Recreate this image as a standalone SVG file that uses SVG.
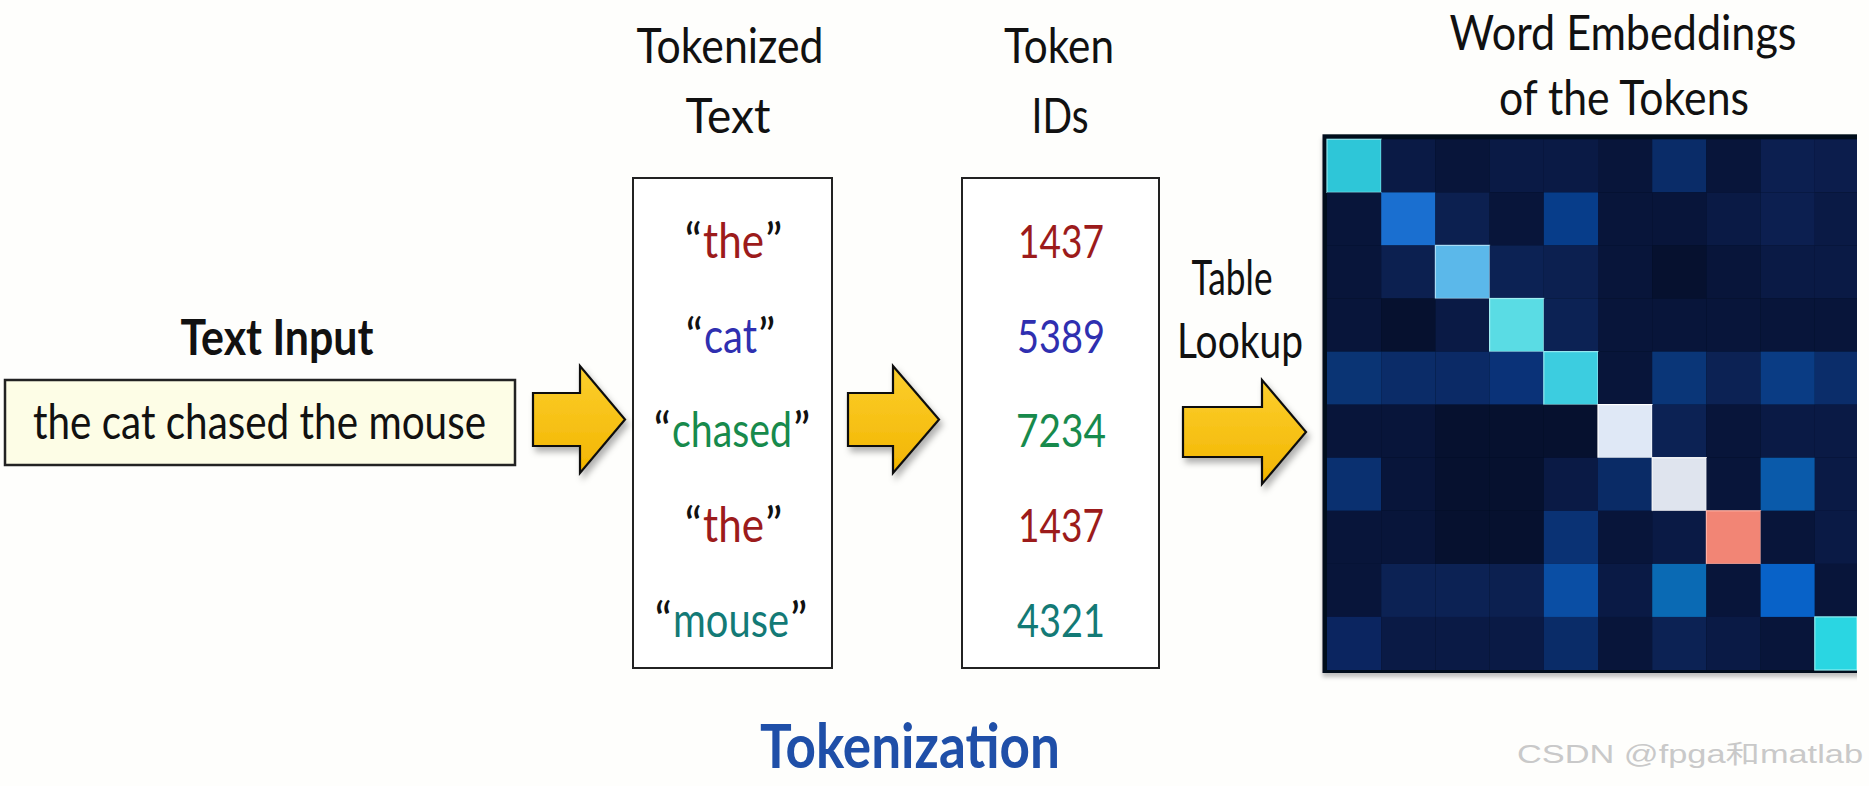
<svg xmlns="http://www.w3.org/2000/svg" width="1869" height="786" viewBox="0 0 1869 786">
<style>
.hdr{font-family:Lato,"Open Sans",sans-serif;font-size:49px;fill:#111;text-anchor:middle}
.tok{font-family:Lato,"Open Sans",sans-serif;font-size:48px}
.q{fill:#111}
.qe{text-anchor:end}
.num{font-family:Lato,"Open Sans",sans-serif;font-size:46px;text-anchor:middle}
.box{fill:#ffffff;stroke:#222;stroke-width:2}
.arrow{fill:url(#gold);stroke:#111;stroke-width:2.2;stroke-linejoin:miter;filter:url(#sh)}
.red{fill:#9c1b1b}.blue{fill:#2f2fb0}.green{fill:#178a4c}.teal{fill:#137a76}
</style>
<defs>
<linearGradient id="gold" x1="0" y1="0" x2="0" y2="1">
<stop offset="0" stop-color="#fccf2e"/>
<stop offset="1" stop-color="#f2b500"/>
</linearGradient>
<filter id="sh" x="-20%" y="-20%" width="150%" height="150%">
<feDropShadow dx="3" dy="5" stdDeviation="3" flood-color="#000" flood-opacity="0.3"/>
</filter>
<filter id="msh" x="-5%" y="-5%" width="110%" height="110%">
<feDropShadow dx="0" dy="4" stdDeviation="2" flood-color="#000" flood-opacity="0.25"/>
</filter>
</defs>
<rect width="1869" height="786" fill="#fefefc"/>

<g id="input">
<text x="277" y="355" class="hdr" font-weight="bold" textLength="193" lengthAdjust="spacingAndGlyphs">Text Input</text>
<rect x="5" y="380" width="510" height="85" fill="#fdfde6" stroke="#222" stroke-width="2.5"/>
<text x="33" y="439" font-family="Lato,'Open Sans',sans-serif" font-size="48" fill="#111" textLength="453" lengthAdjust="spacingAndGlyphs">the cat chased the mouse</text>
</g>

<g id="tokenized">
<text x="730" y="63" class="hdr" textLength="187" lengthAdjust="spacingAndGlyphs">Tokenized</text>
<text x="728" y="133" class="hdr" textLength="85" lengthAdjust="spacingAndGlyphs">Text</text>
<rect x="633" y="178" width="199" height="490" class="box"/>
<g class="tok">
<text x="702" y="258" class="q qe">“</text>
<text transform="translate(703,258) scale(0.8,1)" class="red" textLength="76.25" lengthAdjust="spacingAndGlyphs">the</text>
<text x="765" y="258" class="q">”</text>

<text x="703" y="353" class="q qe">“</text>
<text transform="translate(704,353) scale(0.8,1)" class="blue" textLength="66.25" lengthAdjust="spacingAndGlyphs">cat</text>
<text x="758" y="353" class="q">”</text>

<text x="671" y="447" class="q qe">“</text>
<text transform="translate(672,447) scale(0.8,1)" class="green" textLength="150" lengthAdjust="spacingAndGlyphs">chased</text>
<text x="793" y="447" class="q">”</text>

<text x="702" y="542" class="q qe">“</text>
<text transform="translate(703,542) scale(0.8,1)" class="red" textLength="76.25" lengthAdjust="spacingAndGlyphs">the</text>
<text x="765" y="542" class="q">”</text>

<text x="672" y="637" class="q qe">“</text>
<text transform="translate(673,637) scale(0.8,1)" class="teal" textLength="145" lengthAdjust="spacingAndGlyphs">mouse</text>
<text x="790" y="637" class="q">”</text>
</g>
</g>

<g id="token-ids">
<text x="1059" y="63" class="hdr" textLength="110" lengthAdjust="spacingAndGlyphs">Token</text>
<text x="1060" y="133" class="hdr" textLength="57" lengthAdjust="spacingAndGlyphs">IDs</text>
<rect x="962" y="178" width="197" height="490" class="box"/>
<text x="1061" y="258" class="num red" textLength="86" lengthAdjust="spacingAndGlyphs">1437</text>
<text x="1061" y="353" class="num blue" textLength="88" lengthAdjust="spacingAndGlyphs">5389</text>
<text x="1061" y="447" class="num green" textLength="90" lengthAdjust="spacingAndGlyphs">7234</text>
<text x="1061" y="542" class="num red" textLength="86" lengthAdjust="spacingAndGlyphs">1437</text>
<text x="1061" y="637" class="num teal" textLength="88" lengthAdjust="spacingAndGlyphs">4321</text>
</g>

<g id="lookup-label">
<text x="1232" y="295" class="hdr" font-size="46" textLength="81" lengthAdjust="spacingAndGlyphs">Table</text>
<text x="1240" y="358" class="hdr" font-size="46" textLength="126" lengthAdjust="spacingAndGlyphs">Lookup</text>
</g>

<g id="connectors">
<polygon class="arrow" points="533,393 580,393 580,366 625,419.5 580,473 580,446 533,446"/>
<polygon class="arrow" points="848,393 893,393 893,366 939,419.5 893,473 893,446 848,446"/>
<polygon class="arrow" points="1183,407 1262,407 1262,380 1306,432 1262,484 1262,457 1183,457"/>
</g>

<g id="embeddings">
<text x="1623" y="50" class="hdr" font-size="47" textLength="347" lengthAdjust="spacingAndGlyphs">Word Embeddings</text>
<text x="1624" y="115" class="hdr" font-size="47" textLength="250" lengthAdjust="spacingAndGlyphs">of the Tokens</text>
<rect x="1322.5" y="134.3" width="540" height="538.7" fill="#050a1a" filter="url(#msh)"/>
<g id="cells" stroke="none">
<!-- row 0 -->
<rect x="1327" y="139.3" width="54.2" height="53.1" fill="#2ec6d8" stroke="#8fe6ee" stroke-width="1.2"/>
<rect x="1381.2" y="139.3" width="54.2" height="53.1" fill="#0a1a45"/>
<rect x="1435.4" y="139.3" width="54.2" height="53.1" fill="#08153a"/>
<rect x="1489.6" y="139.3" width="54.2" height="53.1" fill="#0a1a45"/>
<rect x="1543.8" y="139.3" width="54.2" height="53.1" fill="#0a1a45"/>
<rect x="1598" y="139.3" width="54.2" height="53.1" fill="#08153a"/>
<rect x="1652.2" y="139.3" width="54.2" height="53.1" fill="#0a2c68"/>
<rect x="1706.4" y="139.3" width="54.2" height="53.1" fill="#08153a"/>
<rect x="1760.6" y="139.3" width="54.2" height="53.1" fill="#0c1f50"/>
<rect x="1814.8" y="139.3" width="42.2" height="53.1" fill="#0c1d4c"/>
<!-- row 1 -->
<rect x="1327" y="192.4" width="54.2" height="53.1" fill="#08153a"/>
<rect x="1381.2" y="192.4" width="54.2" height="53.1" fill="#1a6fd0"/>
<rect x="1435.4" y="192.4" width="54.2" height="53.1" fill="#0c2050"/>
<rect x="1489.6" y="192.4" width="54.2" height="53.1" fill="#08153a"/>
<rect x="1543.8" y="192.4" width="54.2" height="53.1" fill="#073d8a"/>
<rect x="1598" y="192.4" width="54.2" height="53.1" fill="#08153a"/>
<rect x="1652.2" y="192.4" width="54.2" height="53.1" fill="#08153a"/>
<rect x="1706.4" y="192.4" width="54.2" height="53.1" fill="#0a1a45"/>
<rect x="1760.6" y="192.4" width="54.2" height="53.1" fill="#0c1f50"/>
<rect x="1814.8" y="192.4" width="42.2" height="53.1" fill="#0a1a45"/>
<!-- row 2 -->
<rect x="1327" y="245.4" width="54.2" height="53.1" fill="#08153a"/>
<rect x="1381.2" y="245.4" width="54.2" height="53.1" fill="#0c2050"/>
<rect x="1435.4" y="245.4" width="54.2" height="53.1" fill="#5bb8ea" stroke="#a8dcf6" stroke-width="1.2"/>
<rect x="1489.6" y="245.4" width="54.2" height="53.1" fill="#0c2254"/>
<rect x="1543.8" y="245.4" width="54.2" height="53.1" fill="#0c2050"/>
<rect x="1598" y="245.4" width="54.2" height="53.1" fill="#08153a"/>
<rect x="1652.2" y="245.4" width="54.2" height="53.1" fill="#06112f"/>
<rect x="1706.4" y="245.4" width="54.2" height="53.1" fill="#08153a"/>
<rect x="1760.6" y="245.4" width="54.2" height="53.1" fill="#0a1a45"/>
<rect x="1814.8" y="245.4" width="42.2" height="53.1" fill="#0a1a45"/>
<!-- row 3 -->
<rect x="1327" y="298.5" width="54.2" height="53.1" fill="#08153a"/>
<rect x="1381.2" y="298.5" width="54.2" height="53.1" fill="#06112f"/>
<rect x="1435.4" y="298.5" width="54.2" height="53.1" fill="#0a1a45"/>
<rect x="1489.6" y="298.5" width="54.2" height="53.1" fill="#5adce4" stroke="#a0eef2" stroke-width="1.2"/>
<rect x="1543.8" y="298.5" width="54.2" height="53.1" fill="#0c2254"/>
<rect x="1598" y="298.5" width="54.2" height="53.1" fill="#08153a"/>
<rect x="1652.2" y="298.5" width="54.2" height="53.1" fill="#08153a"/>
<rect x="1706.4" y="298.5" width="54.2" height="53.1" fill="#08153a"/>
<rect x="1760.6" y="298.5" width="54.2" height="53.1" fill="#08153a"/>
<rect x="1814.8" y="298.5" width="42.2" height="53.1" fill="#08153a"/>
<!-- row 4 -->
<rect x="1327" y="351.6" width="54.2" height="53.1" fill="#0a3474"/>
<rect x="1381.2" y="351.6" width="54.2" height="53.1" fill="#0b2c68"/>
<rect x="1435.4" y="351.6" width="54.2" height="53.1" fill="#0b2a66"/>
<rect x="1489.6" y="351.6" width="54.2" height="53.1" fill="#0a3278"/>
<rect x="1543.8" y="351.6" width="54.2" height="53.1" fill="#3ccde0" stroke="#94e8f0" stroke-width="1.2"/>
<rect x="1598" y="351.6" width="54.2" height="53.1" fill="#08153a"/>
<rect x="1652.2" y="351.6" width="54.2" height="53.1" fill="#0a3678"/>
<rect x="1706.4" y="351.6" width="54.2" height="53.1" fill="#0c2254"/>
<rect x="1760.6" y="351.6" width="54.2" height="53.1" fill="#0a3c84"/>
<rect x="1814.8" y="351.6" width="42.2" height="53.1" fill="#0b2d6a"/>
<!-- row 5 -->
<rect x="1327" y="404.6" width="54.2" height="53.1" fill="#08153a"/>
<rect x="1381.2" y="404.6" width="54.2" height="53.1" fill="#08153a"/>
<rect x="1435.4" y="404.6" width="54.2" height="53.1" fill="#06112f"/>
<rect x="1489.6" y="404.6" width="54.2" height="53.1" fill="#06112f"/>
<rect x="1543.8" y="404.6" width="54.2" height="53.1" fill="#06112f"/>
<rect x="1598" y="404.6" width="54.2" height="53.1" fill="#dfe8f6" stroke="#ffffff" stroke-width="1.2"/>
<rect x="1652.2" y="404.6" width="54.2" height="53.1" fill="#0c2254"/>
<rect x="1706.4" y="404.6" width="54.2" height="53.1" fill="#08153a"/>
<rect x="1760.6" y="404.6" width="54.2" height="53.1" fill="#0a1a45"/>
<rect x="1814.8" y="404.6" width="42.2" height="53.1" fill="#0a1a45"/>
<!-- row 6 -->
<rect x="1327" y="457.7" width="54.2" height="53.1" fill="#0a3070"/>
<rect x="1381.2" y="457.7" width="54.2" height="53.1" fill="#08153a"/>
<rect x="1435.4" y="457.7" width="54.2" height="53.1" fill="#06112f"/>
<rect x="1489.6" y="457.7" width="54.2" height="53.1" fill="#06112f"/>
<rect x="1543.8" y="457.7" width="54.2" height="53.1" fill="#0a1a45"/>
<rect x="1598" y="457.7" width="54.2" height="53.1" fill="#0a2b66"/>
<rect x="1652.2" y="457.7" width="54.2" height="53.1" fill="#dfe4ee" stroke="#ffffff" stroke-width="1.2"/>
<rect x="1706.4" y="457.7" width="54.2" height="53.1" fill="#08153a"/>
<rect x="1760.6" y="457.7" width="54.2" height="53.1" fill="#0a5aaa"/>
<rect x="1814.8" y="457.7" width="42.2" height="53.1" fill="#0a1a45"/>
<!-- row 7 -->
<rect x="1327" y="510.8" width="54.2" height="53.1" fill="#08153a"/>
<rect x="1381.2" y="510.8" width="54.2" height="53.1" fill="#08153a"/>
<rect x="1435.4" y="510.8" width="54.2" height="53.1" fill="#06112f"/>
<rect x="1489.6" y="510.8" width="54.2" height="53.1" fill="#06112f"/>
<rect x="1543.8" y="510.8" width="54.2" height="53.1" fill="#0a3274"/>
<rect x="1598" y="510.8" width="54.2" height="53.1" fill="#08153a"/>
<rect x="1652.2" y="510.8" width="54.2" height="53.1" fill="#0a1a45"/>
<rect x="1706.4" y="510.8" width="54.2" height="53.1" fill="#f28575" stroke="#ffb0a4" stroke-width="1.2"/>
<rect x="1760.6" y="510.8" width="54.2" height="53.1" fill="#08153a"/>
<rect x="1814.8" y="510.8" width="42.2" height="53.1" fill="#0a1a45"/>
<!-- row 8 -->
<rect x="1327" y="563.9" width="54.2" height="53.1" fill="#08153a"/>
<rect x="1381.2" y="563.9" width="54.2" height="53.1" fill="#0c2254"/>
<rect x="1435.4" y="563.9" width="54.2" height="53.1" fill="#0c2254"/>
<rect x="1489.6" y="563.9" width="54.2" height="53.1" fill="#0c2050"/>
<rect x="1543.8" y="563.9" width="54.2" height="53.1" fill="#0a4ea4"/>
<rect x="1598" y="563.9" width="54.2" height="53.1" fill="#0a1a45"/>
<rect x="1652.2" y="563.9" width="54.2" height="53.1" fill="#0a6ab4"/>
<rect x="1706.4" y="563.9" width="54.2" height="53.1" fill="#08153a"/>
<rect x="1760.6" y="563.9" width="54.2" height="53.1" fill="#0862c8"/>
<rect x="1814.8" y="563.9" width="42.2" height="53.1" fill="#08153a"/>
<!-- row 9 -->
<rect x="1327" y="616.9" width="54.2" height="53.1" fill="#0b2560"/>
<rect x="1381.2" y="616.9" width="54.2" height="53.1" fill="#0a1a45"/>
<rect x="1435.4" y="616.9" width="54.2" height="53.1" fill="#0a1a45"/>
<rect x="1489.6" y="616.9" width="54.2" height="53.1" fill="#0a1a45"/>
<rect x="1543.8" y="616.9" width="54.2" height="53.1" fill="#0a2c68"/>
<rect x="1598" y="616.9" width="54.2" height="53.1" fill="#08153a"/>
<rect x="1652.2" y="616.9" width="54.2" height="53.1" fill="#0c2254"/>
<rect x="1706.4" y="616.9" width="54.2" height="53.1" fill="#0a1a45"/>
<rect x="1760.6" y="616.9" width="54.2" height="53.1" fill="#08153a"/>
<rect x="1814.8" y="616.9" width="42.2" height="53.1" fill="#2ad6e2" stroke="#90eef2" stroke-width="1.2"/>
</g>
<rect x="1857" y="120" width="12" height="570" fill="#fefefc"/>
</g>

<g id="title">
<text x="910" y="768" font-family="Lato,'Open Sans',sans-serif" font-weight="bold" font-size="62" fill="#1f4fa8" text-anchor="middle" textLength="300" lengthAdjust="spacingAndGlyphs">Tokenization</text>
</g>

<g id="watermark">
<text x="1517" y="763" font-family="'Liberation Sans','Noto Sans CJK SC',sans-serif" font-size="25" fill="#c9c9c9" textLength="346" lengthAdjust="spacingAndGlyphs">CSDN @fpga和matlab</text>
</g>
</svg>
